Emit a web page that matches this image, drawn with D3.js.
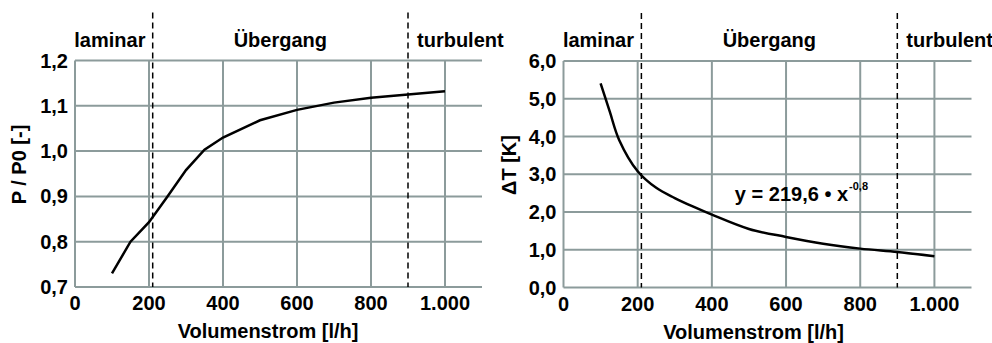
<!DOCTYPE html>
<html>
<head>
<meta charset="utf-8">
<script src="https://cdn.jsdelivr.net/npm/d3@7"></script>
<style>
  body { margin: 0; background: #fff; }
  text { font-family: "Liberation Sans", Arial, sans-serif; font-weight: bold; fill: #000; }
  .grid line { stroke: #8c9b9b; stroke-width: 2; }
  .curve { fill: none; stroke: #000; stroke-width: 2.5; }
  .zone { stroke: #000; stroke-width: 1.5; stroke-dasharray: 6,4; }
</style>
</head>
<body>
<script>
// x values (Volumenstrom l/h)
var xTicks = [0, 200, 400, 600, 800, 1000];
var zoneBounds = [210, 900];
var zoneLabels = ["laminar", "Übergang", "turbulent"];

// left: P / P0
var powerFlow = [100, 150, 200, 250, 300, 350, 400, 500, 600, 700, 800, 900, 1000];
var powerRatio = [0.73, 0.80, 0.843, 0.90, 0.958, 1.003, 1.03, 1.068, 1.091, 1.107, 1.118, 1.125, 1.132];
var powerTicks = [0.7, 0.8, 0.9, 1.0, 1.1, 1.2];

// right: delta T
var tempFlow = [100, 125, 150, 200, 250, 300, 350, 400, 500, 600, 700, 800, 900, 1000];
var tempDelta = [5.41, 4.65, 3.91, 3.08, 2.64, 2.37, 2.14, 1.93, 1.55, 1.34, 1.16, 1.03, 0.94, 0.83];
var tempTicks = [0, 1, 2, 3, 4, 5, 6];

var equation = "y = 219,6 \u2022 x";
var exponent = "-0,8";

var width = 992, height = 343;
var svg = d3.select("body").append("svg").attr("width", width).attr("height", height);

var fmtX = function(d) { return d == 1000 ? "1.000" : String(d); };
var fmtY = function(d) { return d3.format(".1f")(d).replace(".", ","); };

function panel(opt) {
  var w = opt.w, h = opt.h;
  var g = svg.append("g").attr("transform", "translate(" + opt.left + "," + opt.top + ")");

  var x = d3.scaleLinear().domain([0, 1100]).range([0, w]);
  var y = d3.scaleLinear().domain(opt.yDomain).range([h, 0]);

  // grid
  var grid = g.append("g").attr("class", "grid");
  grid.selectAll(".hx").data(opt.yTicks).enter().append("line")
    .attr("x1", 0).attr("x2", w)
    .attr("y1", function(d) { return y(d); }).attr("y2", function(d) { return y(d); });
  grid.selectAll(".vx").data(xTicks).enter().append("line")
    .attr("y1", 0).attr("y2", h)
    .attr("x1", function(d) { return x(d); }).attr("x2", function(d) { return x(d); });

  // tick labels
  g.selectAll(".yl").data(opt.yTicks).enter().append("text")
    .attr("x", -7).attr("y", function(d) { return y(d); })
    .attr("dy", "0.35em")
    .style("text-anchor", "end").style("font-size", "20px")
    .text(fmtY);
  g.selectAll(".xl").data(xTicks).enter().append("text")
    .attr("x", function(d) { return x(d); }).attr("y", h + 23)
    .style("text-anchor", "middle").style("font-size", "20px")
    .text(fmtX);

  // zone boundaries
  g.selectAll(".zone").data(zoneBounds).enter().append("line")
    .attr("class", "zone")
    .attr("x1", function(d) { return x(d); }).attr("x2", function(d) { return x(d); })
    .attr("y1", -48).attr("y2", h);

  var zl = [x(zoneBounds[0]) / 2 - 4, (x(zoneBounds[0]) + x(zoneBounds[1])) / 2, x(zoneBounds[1]) + 9];
  zoneLabels.forEach(function(t, i) {
    g.append("text")
      .attr("x", zl[i]).attr("y", -14)
      .style("text-anchor", i == 2 ? "start" : "middle")
      .style("font-size", "20px")
      .text(t);
  });

  // curve
  var line = d3.line()
    .x(function(d, i) { return x(opt.xs[i]); })
    .y(function(d) { return y(d); })
    .curve(opt.curve);
  g.append("path").datum(opt.ys).attr("class", "curve").attr("d", line);

  // axis titles
  g.append("text")
    .attr("transform", "translate(" + opt.yTitleX + "," + opt.yTitleY + ") rotate(-90)")
    .style("text-anchor", "middle").style("font-size", "20px")
    .text(opt.yTitle);
  g.append("text")
    .attr("x", opt.xTitleX).attr("y", h + 51)
    .style("text-anchor", "middle").style("font-size", "20px")
    .text("Volumenstrom [l/h]");

  return { g: g, x: x, y: y };
}

var p1 = panel({
  left: 75, top: 60.5, w: 407, h: 226.5,
  yDomain: [0.7, 1.2], yTicks: powerTicks,
  xs: powerFlow, ys: powerRatio, curve: d3.curveLinear,
  yTitle: "P / P0 [-]", yTitleX: -49, yTitleY: 104, xTitleX: 193
});

var p2 = panel({
  left: 563.5, top: 61, w: 408, h: 226.5,
  yDomain: [0, 6], yTicks: tempTicks,
  xs: tempFlow, ys: tempDelta, curve: d3.curveCatmullRom,
  yTitle: "\u0394T [K]", yTitleX: -48, yTitleY: 104, xTitleX: 190
});

// equation label
var eq = p2.g.append("text")
  .attr("x", p2.x(462)).attr("y", p2.y(2.29))
  .style("font-size", "20px");
eq.append("tspan").text(equation);
eq.append("tspan").attr("dy", -11).attr("dx", 1).style("font-size", "11px").text(exponent);
</script>
</body>
</html>
